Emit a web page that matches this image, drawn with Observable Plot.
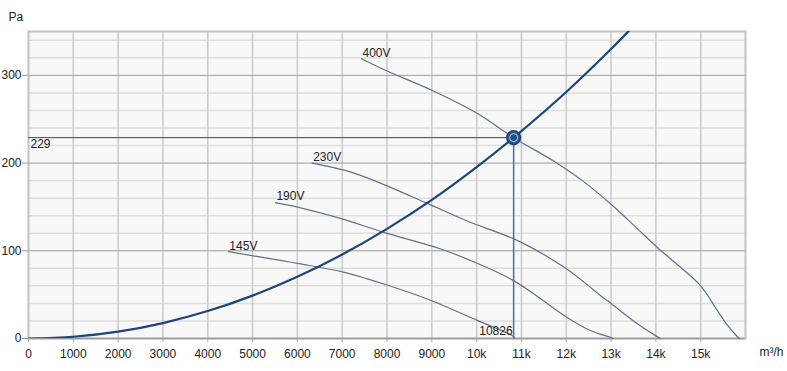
<!DOCTYPE html>
<html>
<head>
<meta charset="utf-8">
<script src="https://cdn.jsdelivr.net/npm/d3@7"></script>
<script src="https://cdn.jsdelivr.net/npm/@observablehq/plot@0.6"></script>
<style>
  html, body { margin: 0; padding: 0; background: #ffffff; }
  #chart svg { display: block; }
</style>
</head>
<body>
<div id="chart"></div>
<script>
// ---- data ----
const xTicks = [0, 1000, 2000, 3000, 4000, 5000, 6000, 7000, 8000, 9000, 10000, 11000, 12000, 13000, 14000, 15000];
const yMajor = [0, 100, 200, 300];
const yMinor = [20, 40, 60, 80, 120, 140, 160, 180, 220, 240, 260, 280, 320, 340];

// system curve (m³/h, Pa)
const systemQ = [0, 1000, 2000, 3000, 4000, 5000, 6000, 7000, 8000, 9000, 10000, 10826, 12000, 13000, 13400];
const systemP = [0, 2, 7.8, 17.6, 31.3, 48.9, 70.3, 95.7, 125, 158, 195.4, 229, 281, 330, 351];

// fan curves
const fanLabels = ["400V", "230V", "190V", "145V"];
const fan400Q = [7430, 8000, 9000, 10000, 10826, 11760, 12360, 13000, 13550, 14070, 14370, 15000, 15370, 15600, 15820, 15860];
const fan400P = [319, 305, 283, 257, 229, 201, 180, 153, 127, 102, 89, 60, 32, 15, 2, 0];
const fan230Q = [6330, 7040, 7410, 8000, 8900, 9790, 10940, 12020, 12400, 12840, 13000, 13500, 14000, 14100];
const fan230P = [200, 192, 186, 174, 154, 134, 111, 79, 64, 46, 40, 20, 3, 0];
const fan190Q = [5510, 6070, 6960, 7930, 9200, 10000, 10826, 11380, 12020, 12500, 13000, 13050];
const fan190P = [155, 149, 137, 121, 102, 86, 66, 47, 24, 10, 1, 0];
const fan145Q = [4460, 5620, 6070, 7000, 7560, 8000, 8900, 10000, 10800, 10850];
const fan145P = [99, 89, 85, 76, 68, 61, 45, 21, 3, 0];

// operating point
const opQ = 10826;
const opP = 229;

// ---- build tables ----
const toRows = (qs, ps, name) => qs.map((q, i) => ({q, p: ps[i], series: name}));
const systemRows = toRows(systemQ, systemP, "system");
const fanRows = [
  ...toRows(fan400Q, fan400P, "400V"),
  ...toRows(fan230Q, fan230P, "230V"),
  ...toRows(fan190Q, fan190P, "190V"),
  ...toRows(fan145Q, fan145P, "145V")
];
const fanStarts = fanLabels.map(name => fanRows.find(d => d.series === name));

const fmtX = d => d >= 10000 ? (d / 1000) + "k" : String(d);

const chart = Plot.plot({
  width: 787,
  height: 371,
  marginLeft: 28,
  marginRight: 42,
  marginTop: 31,
  marginBottom: 33,
  style: {fontFamily: "'Liberation Sans', Arial, sans-serif", fontSize: "12px", color: "#222", background: "#ffffff"},
  x: {domain: [0, 16000]},
  y: {domain: [0, 350]},
  marks: [
    Plot.frame({fill: "#f8f8f8", stroke: null}),
    Plot.ruleY(yMinor, {stroke: "#dedede", strokeWidth: 1.5}),
    Plot.ruleX(xTicks.filter(d => d > 0), {stroke: "#cacaca", strokeWidth: 1.5}),
    Plot.ruleY(yMajor.filter(d => d > 0), {stroke: "#9a9a9a", strokeWidth: 1}),
    Plot.frame({stroke: "#c2c2c2", strokeWidth: 2, fill: null}),
    Plot.ruleY([0], {stroke: "#9a9a9a", strokeWidth: 1.5}),
    Plot.axisX({ticks: xTicks, tickFormat: fmtX, tickSize: 4, tickPadding: 7, stroke: "#aaaaaa", label: null, fill: "#222"}),
    Plot.axisY({ticks: yMajor, tickSize: 6, tickPadding: 1, stroke: "#9a9a9a", label: null, fill: "#222"}),
    Plot.text(["m³/h"], {frameAnchor: "bottom-right", dx: 38, dy: 17, textAnchor: "end", fill: "#222"}),
    Plot.text(["Pa"], {frameAnchor: "top-left", dx: -20, dy: -19, textAnchor: "start", fill: "#222"}),
    // fan curves
    Plot.line(fanRows, {x: "q", y: "p", z: "series", stroke: "#637186", strokeWidth: 1.2, curve: "catmull-rom"}),
    Plot.text(fanStarts, {x: "q", y: "p", text: "series", textAnchor: "start", dx: 1, dy: -6, fill: "#222"}),
    // operating point guides
    Plot.ruleY([opP], {x1: 0, x2: opQ, stroke: "#2c4a6c", strokeWidth: 1}),
    Plot.ruleX([opQ], {y1: 0, y2: opP, stroke: "#4a6ea6", strokeWidth: 1.5}),
    // system curve
    Plot.line(systemRows, {x: "q", y: "p", stroke: "#1c4677", strokeWidth: 2.2, curve: "catmull-rom", clip: true}),
    // operating point marker
    Plot.dot([{q: opQ, p: opP}], {x: "q", y: "p", r: 6.8, fill: "#2a5b95", stroke: "#1b3f6b", strokeWidth: 1.5}),
    Plot.dot([{q: opQ, p: opP}], {x: "q", y: "p", r: 4, fill: "#1f4d85", stroke: "#b9cde4", strokeWidth: 1}),
    // labels for the operating point
    Plot.text([opP], {x: 0, y: d => d, text: d => String(d), textAnchor: "start", dx: 2, dy: 7, fill: "#222"}),
    Plot.text([opQ], {x: d => d, y: 0, text: d => String(d), textAnchor: "end", dx: -1, dy: -7, fill: "#222"})
  ]
});
document.getElementById("chart").appendChild(chart);
</script>
</body>
</html>
